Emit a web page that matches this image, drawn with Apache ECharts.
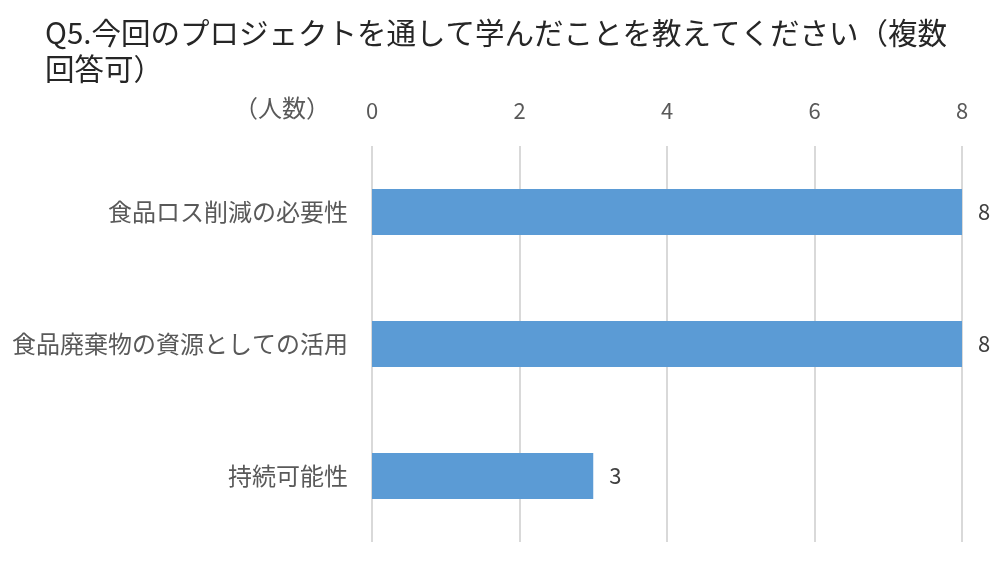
<!DOCTYPE html>
<html>
<head>
<meta charset="utf-8">
<script src="https://cdn.jsdelivr.net/npm/echarts@6/dist/echarts.min.js"></script>
<style>
  html, body { margin: 0; padding: 0; background: #fff; }
  #chart { width: 994px; height: 566px; }
</style>
</head>
<body>
<div id="chart"></div>
<script>
const titleText = 'Q5.今回のプロジェクトを通して学んだことを教えてください（複数\n回答可）';
const categories = ['食品ロス削減の必要性', '食品廃棄物の資源としての活用', '持続可能性'];
const values = [8, 8, 3];
const axisMin = 0;
const axisMax = 8;
const axisStep = 2;

const font = '"Noto Sans CJK JP", "Noto Sans", sans-serif';
const chart = echarts.init(document.getElementById('chart'));

const option = {
  animation: false,
  title: {
    text: titleText,
    left: 40,
    top: 10,
    textStyle: {
      fontFamily: font,
      fontSize: 29.5,
      fontWeight: 'normal',
      color: '#262626',
      lineHeight: 36
    }
  },
  graphic: [
    {
      type: 'text',
      left: 234,
      top: 96,
      style: {
        text: '（人数）',
        font: '24px ' + font,
        fill: '#595959'
      }
    }
  ],
  grid: {
    left: 372,
    right: 32,
    top: 146,
    bottom: 24,
    containLabel: false
  },
  xAxis: {
    type: 'value',
    position: 'top',
    min: axisMin,
    max: axisMax,
    interval: axisStep,
    axisLine: { show: false },
    axisTick: { show: false },
    axisLabel: {
      margin: 24,
      fontFamily: font,
      fontSize: 22,
      color: '#595959'
    },
    splitLine: {
      lineStyle: { color: '#d9d9d9', width: 2 }
    }
  },
  yAxis: {
    type: 'category',
    inverse: true,
    data: categories,
    axisLine: { show: false },
    axisTick: { show: false },
    axisLabel: {
      margin: 24,
      fontFamily: font,
      fontSize: 24,
      color: '#595959'
    }
  },
  series: [
    {
      type: 'bar',
      data: values,
      barWidth: 46,
      itemStyle: { color: '#5b9bd5' },
      label: {
        show: true,
        position: 'right',
        distance: 16,
        fontFamily: font,
        fontSize: 22,
        color: '#404040'
      }
    }
  ]
};

chart.setOption(option);
</script>
</body>
</html>
